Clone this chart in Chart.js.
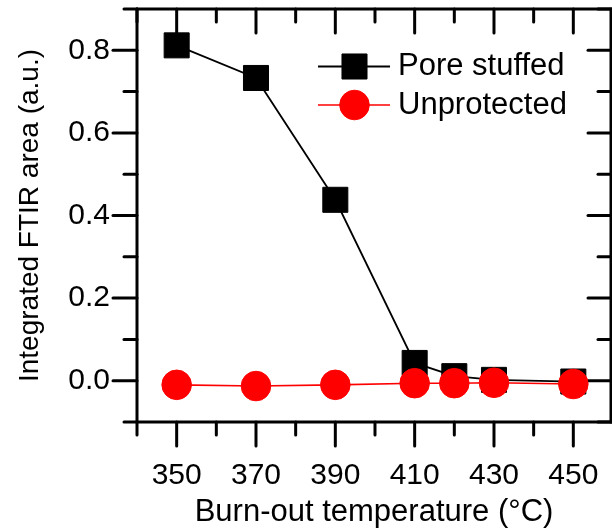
<!DOCTYPE html>
<html>
<head>
<meta charset="utf-8">
<script src="https://cdn.jsdelivr.net/npm/chart.js@4/dist/chart.umd.min.js"></script>
<style>
  html, body { margin: 0; padding: 0; background: #fff; }
  #wrap { width: 612px; height: 528px; position: relative; }
</style>
</head>
<body>
<div id="wrap"><canvas id="c" width="612" height="528"></canvas></div>
<script>
// ---- data ----
const temperatures = [350, 370, 390, 410, 420, 430, 450];
const poreStuffed  = [0.812, 0.733, 0.438, 0.043, 0.011, 0.002, -0.002];
const unprotected  = [-0.010, -0.013, -0.010, -0.006, -0.006, -0.005, -0.008];
const seriesNames  = ["Pore stuffed", "Unprotected"];
const xMajorTicks  = [350, 370, 390, 410, 430, 450];
const xMinorTicks  = [340, 360, 380, 400, 420, 440];
const yMajorTicks  = [0.0, 0.2, 0.4, 0.6, 0.8];
const yMinorTicks  = [-0.1, 0.1, 0.3, 0.5, 0.7, 0.9];
const xTitle = "Burn-out temperature (\u00B0C)";
const yTitle = "Integrated FTIR area (a.u.)";

const FONT = '"Liberation Sans", Arial, Helvetica, sans-serif';

function drawMarker(ctx, style, x, y, r, color) {
  ctx.save();
  ctx.fillStyle = color; ctx.strokeStyle = color; ctx.lineWidth = 1;
  ctx.beginPath();
  if (style === 'rect') {
    const s = Math.SQRT1_2 * r;
    ctx.rect(x - s, y - s, 2 * s, 2 * s);
  } else {
    ctx.arc(x, y, r, 0, Math.PI * 2);
  }
  ctx.fill(); ctx.stroke();
  ctx.restore();
}

const framePlugin = {
  id: 'frameTicks',
  beforeDatasetsDraw(chart) {
    const {ctx, chartArea: a, scales: {x, y}} = chart;
    const MAJ = 24, MIN = 13;
    ctx.save();
    ctx.strokeStyle = '#000';
    ctx.lineWidth = 3;
    ctx.lineCap = 'round';
    const seg = (x1, y1, x2, y2) => { ctx.beginPath(); ctx.moveTo(x1, y1); ctx.lineTo(x2, y2); ctx.stroke(); };
    // frame
    seg(a.left, a.top, a.right, a.top);
    seg(a.left, a.bottom, a.right, a.bottom);
    seg(a.left, a.top, a.left, a.bottom);
    seg(a.right, a.top, a.right, a.bottom);
    // x ticks: bottom outward, top inward
    xMajorTicks.forEach(v => { const p = x.getPixelForValue(v); seg(p, a.bottom, p, a.bottom + MAJ); seg(p, a.top, p, a.top + MAJ); });
    xMinorTicks.forEach(v => { const p = x.getPixelForValue(v); seg(p, a.bottom, p, a.bottom + MIN); seg(p, a.top, p, a.top + MIN); });
    // y ticks: left outward, right inward
    yMajorTicks.forEach(v => { const p = y.getPixelForValue(v); seg(a.left - MAJ, p, a.left, p); seg(a.right, p, a.right - MAJ + 1, p); });
    yMinorTicks.forEach(v => { const p = y.getPixelForValue(v); seg(a.left - MIN, p, a.left, p); seg(a.right, p, a.right - MIN, p); });
    ctx.restore();
  }
};

const legendPlugin = {
  id: 'customLegend',
  afterDraw(chart) {
    const {ctx} = chart;
    const rows = [
      {ds: chart.data.datasets[1], y: 66.5},
      {ds: chart.data.datasets[0], y: 105}
    ];
    ctx.save();
    rows.forEach(r => {
      ctx.strokeStyle = r.ds.borderColor;
      ctx.lineWidth = r.ds.borderWidth;
      ctx.beginPath(); ctx.moveTo(318, r.y); ctx.lineTo(390, r.y); ctx.stroke();
      drawMarker(ctx, r.ds.pointStyle, 354.5, r.y, r.ds.pointRadius, r.ds.pointBackgroundColor);
      ctx.fillStyle = '#000';
      ctx.font = '31px ' + FONT;
      ctx.textAlign = 'left';
      ctx.textBaseline = 'middle';
      ctx.fillText(r.ds.label, 398, r.y);
    });
    ctx.restore();
  }
};

new Chart(document.getElementById('c'), {
  type: 'line',
  data: {
    datasets: [
      {
        label: seriesNames[1],
        data: temperatures.map((t, i) => ({x: t, y: unprotected[i]})),
        borderColor: '#ff0000', backgroundColor: '#ff0000',
        pointBackgroundColor: '#ff0000', pointBorderColor: '#ff0000',
        borderWidth: 1.6, pointStyle: 'circle', pointRadius: 14.8, pointBorderWidth: 1,
        order: 0, clip: false
      },
      {
        label: seriesNames[0],
        data: temperatures.map((t, i) => ({x: t, y: poreStuffed[i]})),
        borderColor: '#000000', backgroundColor: '#000000',
        pointBackgroundColor: '#000000', pointBorderColor: '#000000',
        borderWidth: 1.8, pointStyle: 'rect', pointRadius: 17.7, pointBorderWidth: 1,
        order: 1, clip: false
      }
    ]
  },
  options: {
    responsive: false,
    animation: false,
    devicePixelRatio: 1,
    layout: { autoPadding: false, padding: {top: 9, right: 1, left: 0, bottom: 0} },
    plugins: { legend: {display: false}, tooltip: {enabled: false} },
    elements: { line: { tension: 0 } },
    scales: {
      x: {
        type: 'linear', min: 340, max: 459.5,
        afterBuildTicks: s => { s.ticks = xMajorTicks.map(v => ({value: v})); },
        afterFit: s => { s.height = 106; s.paddingLeft = 0; s.paddingRight = 0; },
        grid: {display: false, drawTicks: false},
        border: {display: false},
        ticks: {
          color: '#000', font: {family: FONT, size: 30}, padding: 35.5,
          maxRotation: 0, autoSkip: false, callback: v => String(v)
        },
        title: {
          display: true, text: xTitle, color: '#000',
          font: {family: FONT, size: 31, lineHeight: 1}, padding: {top: 0, bottom: 0}
        }
      },
      y: {
        type: 'linear', min: -0.1, max: 0.9,
        afterBuildTicks: s => { s.ticks = yMajorTicks.map(v => ({value: v})); },
        afterFit: s => { s.width = 137; s.paddingTop = 0; s.paddingBottom = 0; },
        grid: {display: false, drawTicks: false},
        border: {display: false},
        ticks: {
          color: '#000', font: {family: FONT, size: 30}, padding: 27,
          autoSkip: false, callback: v => Number(v).toFixed(1)
        },
        title: {
          display: true, text: yTitle, color: '#000',
          font: {family: FONT, size: 28, lineHeight: 1.2}, padding: {top: 13, bottom: 0}
        }
      }
    }
  },
  plugins: [framePlugin, legendPlugin]
});
</script>
</body>
</html>
